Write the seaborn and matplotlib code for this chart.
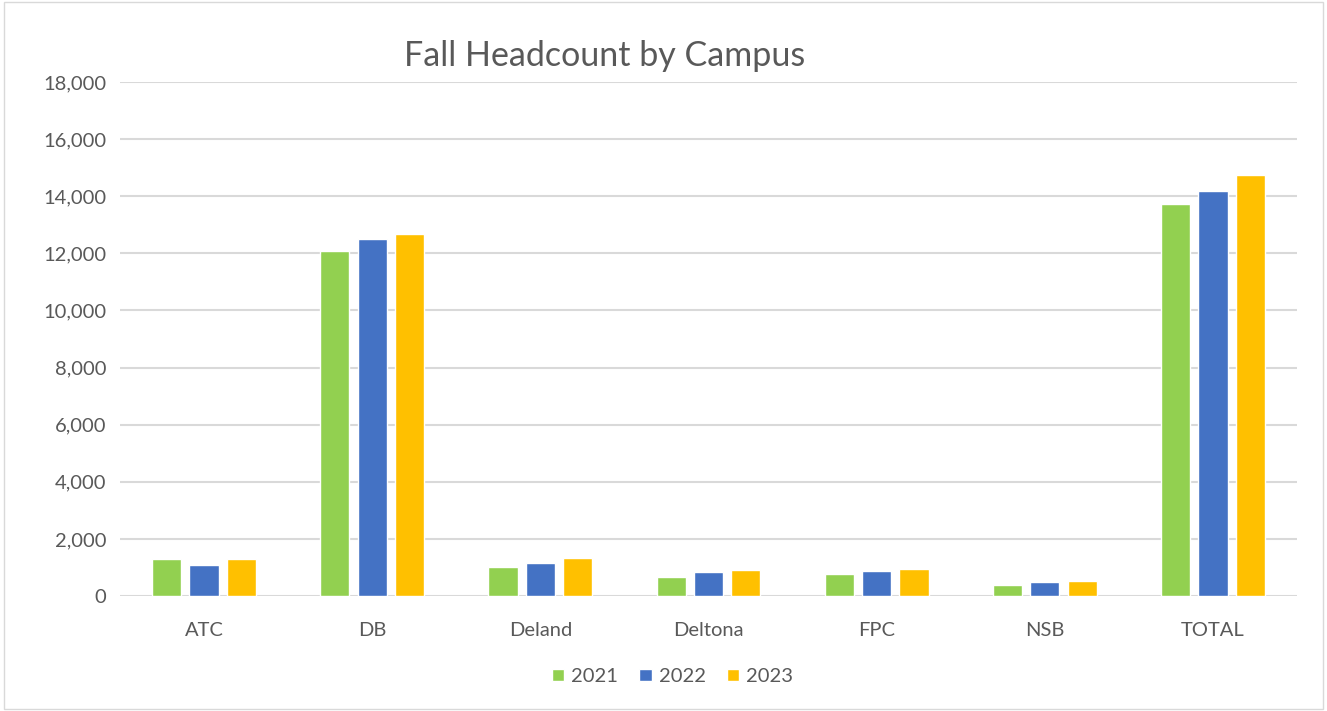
import pandas as pd
import matplotlib.pyplot as plt
import seaborn as sns
from matplotlib.patches import Rectangle
from matplotlib.ticker import FuncFormatter

# values
campuses = ['ATC', 'DB', 'Deland', 'Deltona', 'FPC', 'NSB', 'TOTAL']
years = ['2021', '2022', '2023']
hc_2021 = [1300, 12070, 1015, 675, 780, 395, 13720]
hc_2022 = [1100, 12510, 1165, 850, 885, 500, 14200]
hc_2023 = [1310, 12675, 1340, 920, 955, 525, 14730]
colors = ['#92D050', '#4472C4', '#FFC000']

df = pd.DataFrame({
    'Campus': campuses * 3,
    'Year': [y for y in years for _ in campuses],
    'Headcount': hc_2021 + hc_2022 + hc_2023,
})

sns.set_style('white')
plt.rcParams['font.family'] = ['Lato', 'DejaVu Sans']
grey = '#595959'

fig = plt.figure(figsize=(13.27, 7.11), dpi=100)
ax = fig.add_axes([120 / 1327, 1 - 596 / 711, (1297 - 120) / 1327, (596 - 82) / 711])

sns.barplot(data=df, x='Campus', y='Headcount', hue='Year', palette=colors,
            width=0.667, gap=0.22, ax=ax, legend=True, saturation=1)

ax.set_ylim(0, 18000)
ax.set_yticks(range(0, 18001, 2000))
ax.yaxis.set_major_formatter(FuncFormatter(lambda v, p: f'{int(v):,}'))
ax.grid(axis='y', color='#D9D9D9', linewidth=1.5)
ax.set_axisbelow(True)
for s in ax.spines.values():
    s.set_visible(False)
ax.set_xlabel('')
ax.set_ylabel('')
ax.tick_params(axis='both', labelsize=14.5, colors=grey, length=0)
ax.tick_params(axis='x', pad=19)
ax.tick_params(axis='y', pad=10)

leg = ax.legend(loc='upper center', bbox_to_anchor=(0.4695, -0.105), ncol=3, frameon=False,
                fontsize=14.5, handlelength=0.6, handleheight=0.6, handletextpad=0.35,
                columnspacing=1.05)
for t in leg.get_texts():
    t.set_color(grey)

fig.text(605 / 1327, 1 - 56 / 711, 'Fall Headcount by Campus', ha='center', va='center',
         fontsize=24.5, color=grey)

fig.patches.append(Rectangle((0.003, 0.003), 0.994, 0.994, transform=fig.transFigure,
                             fill=False, edgecolor='#D9D9D9', linewidth=1))

fig.savefig('out.png', dpi=100)
